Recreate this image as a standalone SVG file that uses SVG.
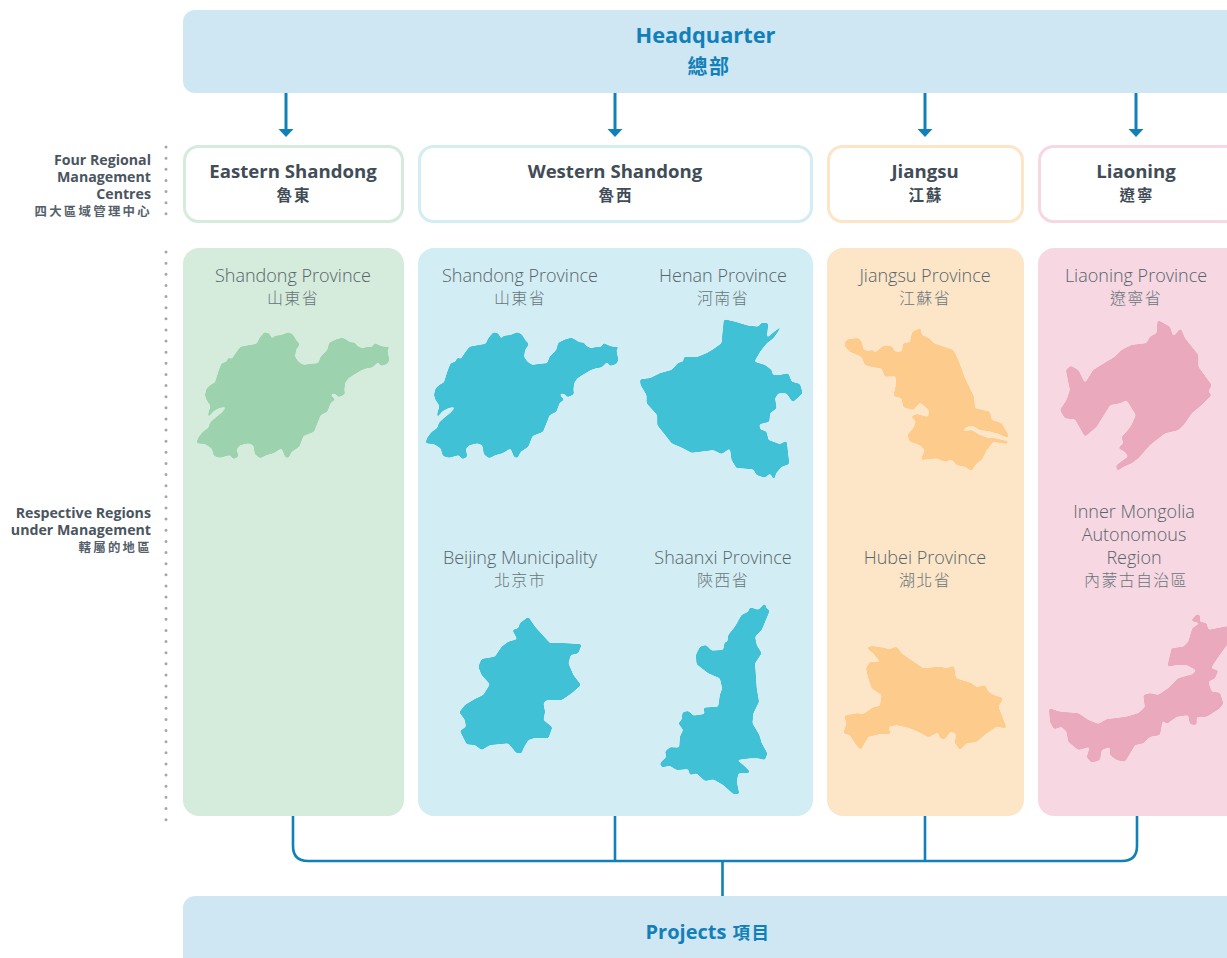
<svg xmlns="http://www.w3.org/2000/svg" width="1227" height="958" viewBox="0 0 1227 958">
<style>
text{font-family:"Open Sans","Noto Sans CJK TC",sans-serif}
.bar{fill:#cfe6f3}
.hq{font-size:21.800px;font-weight:700;fill:#1280b8;text-anchor:middle}
.hqz{font-family:"Noto Sans CJK TC",sans-serif;font-size:20px;font-weight:700;fill:#1280b8;text-anchor:middle;letter-spacing:1.500px}
.t{font-size:18.600px;font-weight:700;fill:#414c57;text-anchor:middle}
.tz{font-family:"Noto Sans CJK TC",sans-serif;font-size:15.500px;font-weight:700;fill:#414c57;text-anchor:middle;letter-spacing:2px}
.p{font-size:18px;font-weight:300;fill:#56656a;text-anchor:middle}
.pz{font-family:"Noto Sans CJK TC",sans-serif;font-size:16px;font-weight:300;fill:#67757a;text-anchor:middle;letter-spacing:1.300px}
.s{font-size:14.200px;font-weight:700;fill:#4a5560;text-anchor:end}
.sz{font-family:"Noto Sans CJK TC",sans-serif;font-size:12.400px;font-weight:700;fill:#55606a;text-anchor:end;letter-spacing:2.300px}
.box{fill:#fff;stroke-width:3}
.conn{fill:none;stroke:#1280b8;stroke-width:2.600}
.dots{fill:none;stroke:#a2a7ac;stroke-width:3;stroke-linecap:round;stroke-dasharray:0 11.130}
.map{filter:url(#soft)}
.g{fill:#d5ebdc}.gm{fill:#9cd3ae}
.b{fill:#d3edf4}.bm{fill:#40c1d6}
.o{fill:#fde5c8}.om{fill:#fdcb8b}
.r{fill:#f6d7e2}.rm{fill:#eaa9bc}
</style>
<defs>
<filter id="soft" color-interpolation-filters="sRGB" x="-5%" y="-5%" width="110%" height="110%"><feGaussianBlur stdDeviation="2.600"/><feComponentTransfer><feFuncA type="linear" slope="5" intercept="-2"/></feComponentTransfer></filter>
<marker id="ah" markerUnits="userSpaceOnUse" markerWidth="16" markerHeight="9" refX="8" refY="0.500" orient="0" viewBox="0 0 16 9"><path d="M0 0H16L8 8.500Z" fill="#1280b8"/></marker>
<path id="shandong" class="map" transform="translate(170 300) scale(.3333)" d="M79 430L85 413 97 397 115 384 120 368 138 352 155 338 170 320 150 323 132 332 122 343 114 358 115 340 122 318 110 300 105 285 110 265 125 252 135 248 145 215 155 190 170 185 175 172 185 178 200 155 212 140 240 135 260 132 268 115 283 97 297 100 306 115 302 130 312 108 335 105 355 97 368 103 380 122 390 132 378 150 375 170 385 185 400 195 420 192 445 190 452 170 472 150 478 128 500 118 518 113 530 120 540 127 555 128 562 138 575 145 590 142 608 140 614 128 625 135 640 140 661 140 652 150 658 180 652 192 632 198 625 185 608 202 590 205 575 210 550 225 535 235 525 250 523 270 525 283 505 292 497 282 482 280 487 292 497 298 482 308 472 335 452 345 440 375 432 395 400 408 388 440 365 455 355 475 345 470 335 445 310 460 290 465 270 475 255 463 250 435 235 430 210 436 200 447 205 470 190 478 180 465 150 473 132 468 125 445 105 432Z"/>
</defs>

<g id="connectors">
<path class="conn" style="stroke-width:3" marker-end="url(#ah)" d="M286 93V129"/>
<path class="conn" style="stroke-width:3" marker-end="url(#ah)" d="M615 93V129"/>
<path class="conn" style="stroke-width:3" marker-end="url(#ah)" d="M925 93V129"/>
<path class="conn" style="stroke-width:3" marker-end="url(#ah)" d="M1136 93V129"/>
<path class="conn" d="M293 816V846Q293 861 308 861H1122Q1137 861 1137 846V816M615 816V861M925 816V861M722.500 861V896"/>
</g>

<g id="headquarter">
<rect class="bar" x="183" y="10" width="1060" height="83" rx="12"/>
<text class="hq" x="705.500" y="43">Headquarter</text>
<text class="hqz" x="709" y="74">總部</text>
</g>

<g id="side-labels">
<path class="dots" d="M166 147V224"/>
<path class="dots" d="M166 252V821"/>
<text class="s" x="151" y="165">Four Regional</text>
<text class="s" x="151" y="182">Management</text>
<text class="s" x="151" y="199">Centres</text>
<text class="sz" x="152" y="216">四大區域管理中心</text>
<text class="s" x="151" y="518">Respective Regions</text>
<text class="s" x="151" y="535">under Management</text>
<text class="sz" x="152" y="552">轄屬的地區</text>
</g>

<g id="eastern-shandong">
<rect class="box" x="184.500" y="146.500" width="218" height="75" rx="14" stroke="#d5ebdc"/>
<text class="t" x="293" y="178">Eastern Shandong</text>
<text class="tz" x="294" y="201">魯東</text>
</g>
<g id="western-shandong">
<rect class="box" x="419.500" y="146.500" width="392" height="75" rx="14" stroke="#d3edf4"/>
<text class="t" x="615" y="178">Western Shandong</text>
<text class="tz" x="616" y="201">魯西</text>
</g>
<g id="jiangsu">
<rect class="box" x="828.500" y="146.500" width="194" height="75" rx="14" stroke="#fde5c8"/>
<text class="t" x="925" y="178">Jiangsu</text>
<text class="tz" x="926" y="201">江蘇</text>
</g>
<g id="liaoning">
<rect class="box" x="1039.500" y="146.500" width="200" height="75" rx="14" stroke="#f6d7e2"/>
<text class="t" x="1136" y="178">Liaoning</text>
<text class="tz" x="1137" y="201">遼寧</text>
</g>

<g id="panel-eastern">
<rect class="g" x="183" y="248" width="221" height="568" rx="16"/>
<text class="p" x="293" y="282">Shandong Province</text>
<text class="pz" x="293" y="304">山東省</text>
<use href="#shandong" class="gm"/>
</g>

<g id="panel-western">
<rect class="b" x="418" y="248" width="395" height="568" rx="16"/>
<text class="p" x="520" y="282">Shandong Province</text>
<text class="pz" x="520" y="304">山東省</text>
<use href="#shandong" class="bm" x="229"/>
<text class="p" x="723" y="282">Henan Province</text>
<text class="pz" x="723" y="304">河南省</text>
<path class="bm map" transform="translate(420 310) scale(.3333)" d="M660 208L690 205 720 190 755 180 775 158 790 155 792 140 830 142 860 130 880 118 905 100 908 65 912 28 945 35 985 47 1015 50 1025 38 1045 40 1040 85 1090 43 1060 85 1040 100 1020 125 1003 155 1035 165 1055 180 1058 195 1080 195 1105 190 1115 215 1140 222 1148 250 1118 277 1100 250 1075 250 1065 265 1070 295 1050 310 1048 335 1018 343 1020 358 1040 365 1045 390 1080 403 1100 392 1108 462 1085 470 1068 490 1063 510 1050 490 1035 503 1010 495 1000 478 965 475 950 475 935 450 930 415 905 432 880 420 815 428 790 415 755 400 740 380 712 345 712 315 680 280 680 255 662 225Z"/>
<text class="p" x="520" y="564">Beijing Municipality</text>
<text class="pz" x="520" y="586">北京市</text>
<path class="bm map" transform="translate(440 595) scale(.3333)" d="M58 352L75 330 105 312 130 300 150 268 125 240 115 215 125 192 165 185 185 155 205 140 232 133 217 105 235 100 240 85 265 65 285 95 330 145 350 143 425 148 415 175 392 180 385 205 400 240 423 270 395 295 365 315 320 315 310 325 315 350 310 375 337 397 325 430 285 428 265 435 250 460 245 475 230 475 205 445 150 450 125 465 105 450 80 448 60 408 78 395 75 375Z"/>
<text class="p" x="723" y="564">Shaanxi Province</text>
<text class="pz" x="723" y="586">陝西省</text>
<path class="bm map" transform="translate(440 595) scale(.3333)" d="M660 505L680 485 675 470 690 457 718 458 720 425 730 405 715 385 725 375 728 352 745 348 760 362 795 357 790 338 835 335 840 300 847 280 840 250 805 235 770 208 768 180 780 155 798 150 815 167 850 165 855 138 862 145 865 120 885 95 905 60 925 50 930 37 955 45 975 25 980 42 990 45 965 105 945 125 950 150 965 175 945 205 950 280 957 320 940 355 937 385 958 420 965 445 982 475 975 495 955 490 930 490 890 495 910 510 930 530 925 535 895 535 890 560 898 597 880 597 850 570 820 553 795 558 770 535 750 540 745 522 710 525 690 512 665 517Z"/>
</g>

<g id="panel-jiangsu">
<rect class="o" x="827" y="248" width="197" height="568" rx="16"/>
<text class="p" x="925" y="282">Jiangsu Province</text>
<text class="pz" x="925" y="304">江蘇省</text>
<path class="om map" fill-rule="evenodd" transform="translate(830 310) scale(.3333)" d="M45 95L55 88 85 84 95 95 100 118 118 125 125 118 135 128 160 108 185 108 195 125 215 125 220 100 240 97 247 65 272 55 275 75 298 85 310 100 370 120 385 150 405 205 432 260 435 295 480 305 485 330 515 340 535 375 533 402 490 395 470 420 455 450 440 460 425 483 405 470 380 465 365 448 345 455 320 445 272 450 285 420 270 405 240 395 232 375 250 355 258 335 243 320 260 312 295 322 297 300 270 277 250 300 220 292 215 265 190 258 198 225 197 198 165 200 155 175 130 172 105 165 95 140 60 125 45 110ZM395 365L410 350 430 348 450 360 475 363 510 373 534 384 532 394 495 385 470 383 445 373 425 360Z"/>
<path class="o" transform="translate(830 310) scale(.3333)" d="M510 403L535 410 533 416 515 410Z"/>
<text class="p" x="925" y="564">Hubei Province</text>
<text class="pz" x="925" y="586">湖北省</text>
<path class="om map" transform="translate(830 600) scale(.3333)" d="M110 143L125 138 160 143 178 148 200 140 215 160 235 175 280 205 330 200 350 205 372 197 378 235 425 250 440 262 465 255 475 275 490 285 520 295 505 320 515 345 530 385 500 380 470 400 440 425 410 430 390 450 375 430 378 400 360 395 345 418 330 415 325 397 295 412 265 395 240 385 200 375 175 380 182 402 150 402 115 410 92 450 75 430 60 405 40 400 50 370 42 347 80 340 100 342 130 322 150 318 155 285 125 265 115 235 108 205 120 185 152 187 130 160Z"/>
</g>

<g id="panel-liaoning">
<rect class="r" x="1038" y="248" width="205" height="568" rx="16"/>
<text class="p" x="1136" y="282">Liaoning Province</text>
<text class="pz" x="1136" y="304">遼寧省</text>
<path class="rm map" transform="translate(830 310) scale(.3333)" d="M690 300L710 270 720 240 708 180 722 167 745 180 765 220 790 180 830 155 855 140 875 120 905 105 950 100 960 80 980 70 983 30 1020 50 1030 80 1052 55 1065 85 1105 135 1105 170 1145 225 1135 245 1145 255 1115 285 1085 310 1065 340 1045 360 1005 370 960 405 925 445 905 460 880 470 862 483 858 467 880 450 895 440 885 425 865 415 880 400 875 380 890 365 905 345 918 315 890 270 870 280 840 285 825 310 800 350 765 380 745 345 735 328 705 325Z"/>
<text class="p" x="1134" y="518">Inner Mongolia</text>
<text class="p" x="1134" y="541">Autonomous</text>
<text class="p" x="1134" y="564">Region</text>
<text class="pz" x="1136" y="586">內蒙古自治區</text>
<path class="rm map" transform="translate(830 600) scale(.3333)" d="M657 325L690 335 745 340 775 360 805 372 830 358 890 350 925 340 945 322 940 285 960 280 985 285 1015 265 1045 235 1090 222 1098 210 1070 195 1040 195 1012 200 1025 145 1060 140 1075 125 1087 85 1110 70 1083 62 1100 43 1110 45 1110 65 1130 70 1135 90 1195 78 1195 130 1165 170 1143 205 1165 212 1155 235 1135 245 1145 275 1170 278 1180 310 1170 325 1130 350 1100 350 1100 375 1080 373 1075 345 1040 350 1010 372 998 360 990 405 960 410 940 430 915 435 885 485 860 480 840 465 840 440 815 450 810 480 785 488 770 472 780 440 745 450 715 425 710 395 695 380 672 388 660 365Z"/>
</g>

<g id="projects">
<rect class="bar" x="183" y="896" width="1060" height="80" rx="12"/>
<text x="708" y="939" text-anchor="middle"><tspan style="font-size:20px;font-weight:700;fill:#1280b8">Projects</tspan><tspan style="font-family:'Noto Sans CJK TC',sans-serif;font-size:17.500px;font-weight:700;fill:#1280b8;letter-spacing:1.500px" dx="6">項目</tspan></text>
</g>
</svg>
